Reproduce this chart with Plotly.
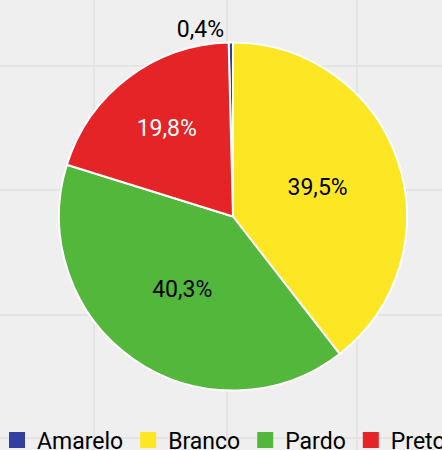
import plotly.graph_objects as go

categories = ["Amarelo", "Branco", "Pardo", "Preto"]
values = [0.4, 39.5, 40.3, 19.8]
colors = ["#343E9F", "#FDE725", "#53B73B", "#E52427"]
text_colors = ["#000000", "#000000", "#000000", "#FFFFFF"]
text_positions = ["outside", "inside", "inside", "inside"]

W, H = 460, 450          # figure slightly wider than the window: last legend entry is clipped
cx, cy, r = 233, 216.5, 174

fig = go.Figure()

fig.add_trace(go.Pie(
    labels=categories,
    values=values,
    sort=False,
    direction="clockwise",
    rotation=-360 * values[0] / sum(values),
    marker=dict(colors=colors, line=dict(color="white", width=2)),
    texttemplate="%{percent:.1%}",
    textposition=text_positions,
    insidetextorientation="horizontal",
    textfont=dict(family="Roboto", size=23, color=text_colors),
    showlegend=False,
    hoverinfo="skip",
    domain=dict(x=[(cx - r) / W, (cx + r) / W], y=[1 - (cy + r) / H, 1 - (cy - r) / H]),
))

# legend entries (square swatches)
for name, col in zip(categories, colors):
    fig.add_trace(go.Scatter(
        x=[None], y=[None], mode="markers", name=name,
        marker=dict(symbol="square", size=16, color=col),
        hoverinfo="skip",
    ))

fig.update_layout(
    width=W, height=H,
    margin=dict(l=0, r=0, t=0, b=0, autoexpand=False),
    paper_bgcolor="#EFEFEF",
    plot_bgcolor="#EFEFEF",
    separators=",.",
    font=dict(family="Roboto", color="#000000"),
    xaxis=dict(range=[0, W], tickvals=[94, 227, 357], showticklabels=False,
               showgrid=True, gridcolor="#E4E4E4", gridwidth=2,
               zeroline=False, showline=False, ticks="", fixedrange=True),
    yaxis=dict(range=[H, 0], tickvals=[66, 190, 315, 438], showticklabels=False,
               showgrid=True, gridcolor="#E4E4E4", gridwidth=2,
               zeroline=False, showline=False, ticks="", fixedrange=True),
    legend=dict(orientation="h", x=-3 / W, xanchor="left", y=-11.5 / H, yanchor="bottom",
                font=dict(family="Roboto", size=23, color="#000000"),
                bgcolor="rgba(0,0,0,0)", itemclick=False, itemdoubleclick=False),
    showlegend=True,
)

fig.write_html(
    "out.html",
    config={"displayModeBar": False, "staticPlot": True},
    post_script="document.body.style.margin='0';document.documentElement.style.overflow='hidden';document.body.style.background='#EFEFEF';",
)
